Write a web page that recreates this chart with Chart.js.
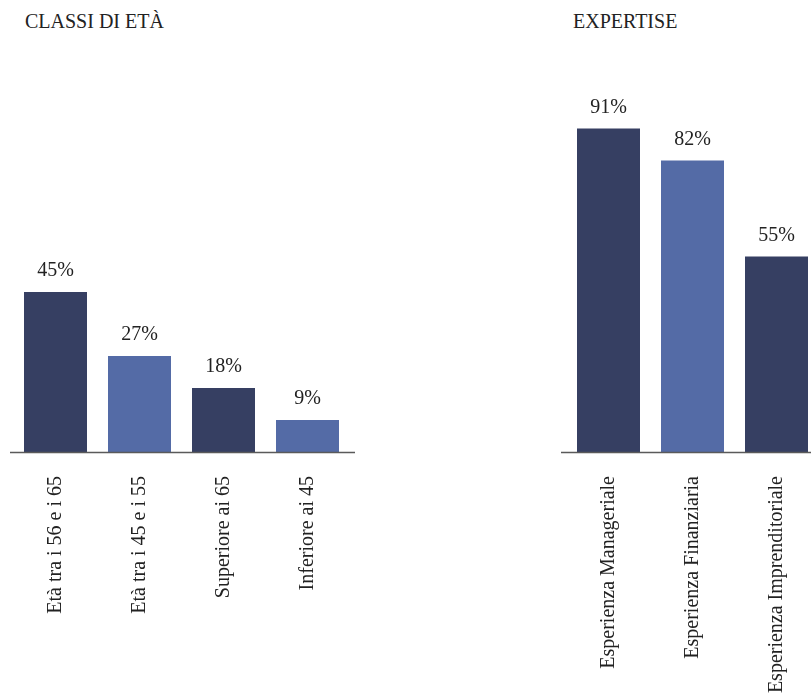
<!DOCTYPE html>
<html>
<head>
<meta charset="utf-8">
<script src="https://cdn.jsdelivr.net/npm/chart.js@4/dist/chart.umd.min.js"></script>
<style>
  html, body { margin:0; padding:0; background:#fff; width:811px; height:697px; overflow:hidden; }
  .title { position:absolute; font-family:"Liberation Serif", "Times New Roman", serif; font-size:20px; color:#222; white-space:nowrap; }
  .box { position:absolute; top:0; height:697px; }
</style>
</head>
<body>
<div class="title" style="left:25px; top:10px;">CLASSI DI ETÀ</div>
<div class="title" style="left:573px; top:10px;">EXPERTISE</div>
<div class="box" style="left:0px; width:362px;"><canvas id="c1"></canvas></div>
<div class="box" style="left:556px; width:270px;"><canvas id="c2"></canvas></div>
<script>
// ---- data ----
const ageCategories = ["Età tra i 56 e i 65", "Età tra i 45 e i 55", "Superiore ai 65", "Inferiore ai 45"];
const ageValues = [45, 27, 18, 9];
const expertiseCategories = ["Esperienza Manageriale", "Esperienza Finanziaria", "Esperienza Imprenditoriale"];
const expertiseValues = [91, 82, 55];
const yMax = 100;

const DARK = "#363f62";
const LIGHT = "#546ba6";
const FONT = "'Liberation Serif', 'Times New Roman', serif";

const valueLabels = {
  id: 'valueLabels',
  afterDatasetsDraw(chart) {
    const ctx = chart.ctx;
    const meta = chart.getDatasetMeta(0);
    const data = chart.data.datasets[0].data;
    ctx.save();
    ctx.font = "20px " + FONT;
    ctx.fillStyle = "#222";
    ctx.textAlign = "center";
    ctx.textBaseline = "middle";
    meta.data.forEach((bar, i) => {
      ctx.fillText(data[i] + "%", bar.x, bar.y - 21);
    });
    ctx.restore();
  }
};

const axisLine = {
  id: 'axisLine',
  afterDatasetsDraw(chart, args, opts) {
    const ctx = chart.ctx;
    const a = chart.chartArea;
    ctx.save();
    ctx.strokeStyle = "#5a5a5a";
    ctx.lineWidth = 1.5;
    ctx.beginPath();
    ctx.moveTo(a.left - opts.extL, a.bottom + 0.5);
    ctx.lineTo(a.right + opts.extR, a.bottom + 0.5);
    ctx.stroke();
    ctx.restore();
  }
};

function makeChart(id, labels, values, padL, padR, extL, extR) {
  return new Chart(document.getElementById(id), {
    type: 'bar',
    data: {
      labels: labels,
      datasets: [{
        data: values,
        backgroundColor: values.map((v, i) => i % 2 === 0 ? DARK : LIGHT),
        barPercentage: 0.75,
        categoryPercentage: 1.0,
        borderWidth: 0
      }]
    },
    options: {
      responsive: true,
      maintainAspectRatio: false,
      animation: false,
      layout: { padding: { top: 96.4, left: padL, right: padR, bottom: 0 } },
      plugins: {
        legend: { display: false },
        tooltip: { enabled: false },
        axisLine: { extL: extL, extR: extR }
      },
      scales: {
        x: {
          grid: { display: false, drawTicks: false },
          border: { display: false },
          ticks: {
            autoSkip: false,
            minRotation: 90,
            maxRotation: 90,
            padding: 24,
            color: "#222",
            font: { family: FONT, size: 20 }
          },
          afterFit: (axis) => { axis.height = 697 - 452; }
        },
        y: {
          display: false,
          min: 0,
          max: yMax
        }
      }
    },
    plugins: [valueLabels, axisLine]
  });
}

makeChart('c1', ageCategories, ageValues, 13.5, 12.5, 3.5, 5.5);
makeChart('c2', expertiseCategories, expertiseValues, 10.5, 7.5, 5.5, 5.5);
</script>
</body>
</html>
